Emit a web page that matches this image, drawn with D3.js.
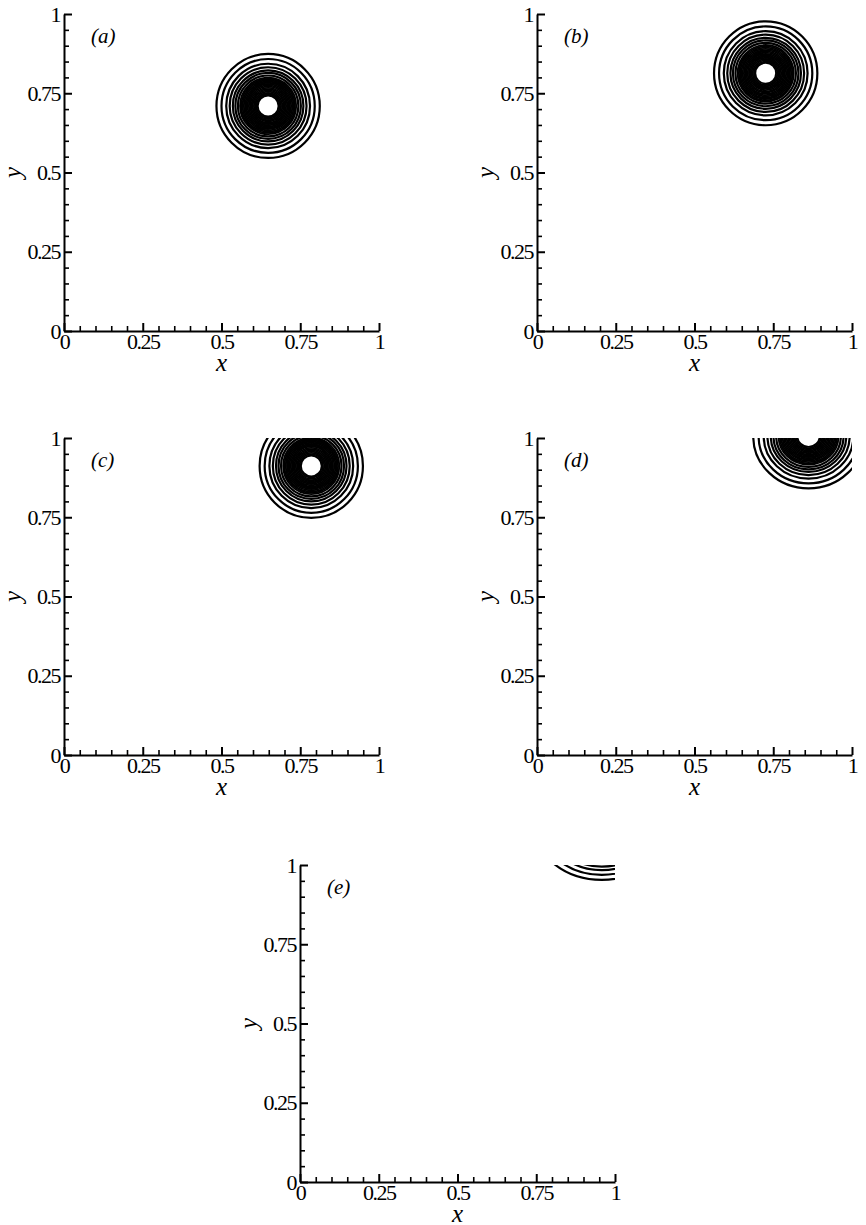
<!DOCTYPE html>
<html>
<head>
<meta charset="utf-8">
<script src="https://cdn.jsdelivr.net/npm/d3@7"></script>
<style>
  body { margin: 0; background: #fff; }
  svg { display: block; }
</style>
</head>
<body>
<svg id="chart"></svg>
<script>
(() => {

  // vortex position at each snapshot
  const panelLabels = ["(a)", "(b)", "(c)", "(d)", "(e)"];
  const centerX  = [0.648, 0.726, 0.785, 0.862, 0.958];
  const centerY  = [0.710, 0.813, 0.912, 1.005, 1.117];
  const stretchX = [1, 1, 1, 1.07, 1.28];

  // contour ring radii (outer spaced ones, then the dense core)
  const ringRadii = [0.164, 0.148, 0.133, 0.122, 0.112, 0.104, 0.096,
    0.089, 0.085, 0.081, 0.077, 0.073, 0.069, 0.065, 0.061, 0.057,
    0.053, 0.049, 0.045, 0.041, 0.037, 0.033];

  const majorTicks = [0, 0.25, 0.5, 0.75, 1];
  const tickLabels = ["0", "0.25", "0.5", "0.75", "1"];
  const minorTicks = [0.05, 0.1, 0.15, 0.2, 0.3, 0.35, 0.4, 0.45,
    0.55, 0.6, 0.65, 0.7, 0.8, 0.85, 0.9, 0.95];

  // where each panel's plot box sits on the page
  const layout = [
    { left: 64,  top: 14 },
    { left: 537, top: 14 },
    { left: 64,  top: 438 },
    { left: 537, top: 438 },
    { left: 300, top: 865 }
  ];

  const w = 315;
  const h = 317;
  const serif = '"Liberation Serif", "Times New Roman", serif';

  const svg = d3.select('#chart')
    .attr('width', 866)
    .attr('height', 1225);

  const x = d3.scaleLinear().domain([0, 1]).range([0, w]);
  const y = d3.scaleLinear().domain([0, 1]).range([h, 0]);

  panelLabels.forEach((label, i) => {
    const g = svg.append('g')
      .attr('transform', `translate(${layout[i].left},${layout[i].top})`);

    const clipId = `clip-${i}`;
    g.append('clipPath').attr('id', clipId)
      .append('rect')
      .attr('x', 0).attr('y', 0)
      .attr('width', w).attr('height', h);

    // contour rings
    g.append('g')
      .attr('clip-path', `url(#${clipId})`)
      .selectAll('ellipse')
      .data(ringRadii)
      .enter()
      .append('ellipse')
      .attr('cx', x(centerX[i]))
      .attr('cy', y(centerY[i]))
      .attr('rx', r => x(r * stretchX[i]) - x(0))
      .attr('ry', r => y(0) - y(r))
      .attr('fill', 'none')
      .attr('stroke', '#000')
      .attr('stroke-width', (r, k) => k < 7 ? 2.2 : 1.9);

    // minor ticks
    g.append('g')
      .attr('transform', `translate(0,${h})`)
      .call(d3.axisBottom(x).tickValues(minorTicks).tickSize(-5).tickFormat(() => ''))
      .call(a => a.select('.domain').remove())
      .selectAll('line').attr('stroke-width', 1.6);

    g.append('g')
      .call(d3.axisLeft(y).tickValues(minorTicks).tickSize(-5).tickFormat(() => ''))
      .call(a => a.select('.domain').remove())
      .selectAll('line').attr('stroke-width', 1.6);

    // major axes
    const xAxis = g.append('g')
      .attr('transform', `translate(0,${h})`)
      .call(d3.axisBottom(x).tickValues(majorTicks).tickSize(-8).tickSizeOuter(0)
        .tickPadding(2).tickFormat((d, k) => tickLabels[k]));

    const yAxis = g.append('g')
      .call(d3.axisLeft(y).tickValues(majorTicks).tickSize(-8).tickSizeOuter(0)
        .tickPadding(4).tickFormat((d, k) => tickLabels[k]));

    [xAxis, yAxis].forEach(a => {
      a.select('.domain').attr('stroke-width', 2);
      a.selectAll('line').attr('stroke-width', 2);
      a.selectAll('text')
        .attr('font-family', serif)
        .attr('font-size', 22)
        .attr('letter-spacing', '-1.5px')
        .attr('fill', '#000');
    });

    // axis titles
    g.append('text')
      .attr('x', w / 2)
      .attr('y', h + 40)
      .attr('text-anchor', 'middle')
      .attr('font-family', serif)
      .attr('font-style', 'italic')
      .attr('font-size', 25)
      .text('x');

    g.append('text')
      .attr('transform', `translate(-43,${h / 2}) rotate(-90)`)
      .attr('text-anchor', 'middle')
      .attr('font-family', serif)
      .attr('font-style', 'italic')
      .attr('font-size', 25)
      .text('y');

    // panel tag
    g.append('text')
      .attr('x', 27)
      .attr('y', 29)
      .attr('font-family', serif)
      .attr('font-style', 'italic')
      .attr('font-size', 21)
      .text(label);
  });

})();
</script>
</body>
</html>
